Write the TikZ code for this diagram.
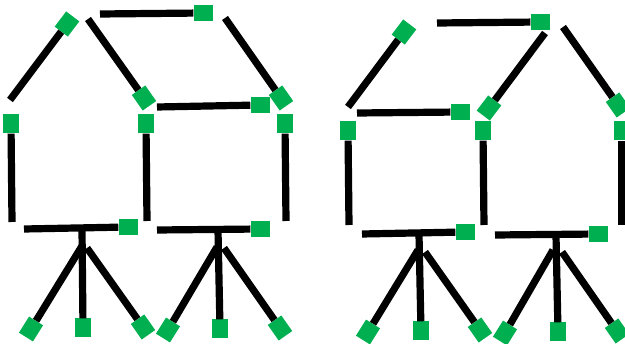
\documentclass[tikz,border=0pt]{standalone}
\usepackage{tikz}
\usepackage{xcolor}
\usetikzlibrary{positioning}
\definecolor{sqgreen}{HTML}{00B050}

\begin{document}
\begin{tikzpicture}[
  x=1pt, y=-1pt,
  sq/.style={fill=sqgreen, inner sep=0pt, minimum width=19pt, minimum height=16.5pt, rotate=#1},
  sq/.default=0,
  stick/.style={line width=7.2pt, black}
]
\clip (0,0) rectangle (625,344);

% left house: roof and walls
\node[sq=53] (la) at (67,24) {};
\node[sq] (lb) at (203,13) {};
\node[sq=-55] (lc) at (144,98) {};
\node[sq=-55] (ld) at (281,98) {};
\node[sq] (le) at (260,105) {};
\node[sq=90] (lf) at (11,124) {};
\node[sq=90] (lg) at (146,124) {};
\node[sq=90] (lh) at (285,124) {};
\coordinate (la0) at (10,100);
\coordinate (lb0) at (100,14);
\coordinate (lc0) at (88,19);
\coordinate (ld0) at (225,18);
\coordinate (le0) at (157,107);
\coordinate (lf0) at (12,222);
\coordinate (lg0) at (147,221);
\coordinate (lh0) at (286,221);
\draw[stick] (la0) -- (la);
\draw[stick] (lb0) -- (lb);
\draw[stick] (lc0) -- (lc);
\draw[stick] (ld0) -- (ld);
\draw[stick] (le0) -- (le);
\draw[stick] (lf0) -- (lf);
\draw[stick] (lg0) -- (lg);
\draw[stick] (lh0) -- (lh);

% left house: first stand
\node[sq] (l1b) at (128,227) {};
\node[sq=90] (l1m) at (83,328) {};
\node[sq=58] (l1l) at (31,329) {};
\node[sq=-55] (l1r) at (143,327) {};
\coordinate (l1b0) at (24,229);
\coordinate (l1t) at (82,229);
\coordinate (l1j) at (82,246);
\coordinate (l1k) at (87,248);
\draw[stick] (l1b0) -- (l1b);
\draw[stick] (l1t) -- (l1m);
\draw[stick] (l1j) -- (l1l);
\draw[stick] (l1k) -- (l1r);

% left house: second stand
\node[sq] (l2b) at (260,229) {};
\node[sq=90] (l2m) at (220,329) {};
\node[sq=58] (l2l) at (168,330) {};
\node[sq=-55] (l2r) at (280,328) {};
\coordinate (l2b0) at (157,230);
\coordinate (l2t) at (218,230);
\coordinate (l2j) at (217,247);
\coordinate (l2k) at (224,248);
\draw[stick] (l2b0) -- (l2b);
\draw[stick] (l2t) -- (l2m);
\draw[stick] (l2j) -- (l2l);
\draw[stick] (l2k) -- (l2r);

% right house: roof and walls
\node[sq=53] (ra) at (404,32) {};
\node[sq] (rb) at (540,22) {};
\node[sq=53] (rc) at (489,108) {};
\node[sq=-55] (rd) at (618,105) {};
\node[sq] (re) at (460,112) {};
\node[sq=90] (rf) at (348,131) {};
\node[sq=90] (rg) at (483,131) {};
\node[sq=90] (rh) at (622,131) {};
\coordinate (ra0) at (348,107);
\coordinate (rb0) at (437,23);
\coordinate (rc0) at (545,33);
\coordinate (rd0) at (563,27);
\coordinate (re0) at (357,113);
\coordinate (rf0) at (349,225);
\coordinate (rg0) at (484,225);
\coordinate (rh0) at (622,225);
\draw[stick] (ra0) -- (ra);
\draw[stick] (rb0) -- (rb);
\draw[stick] (rc0) -- (rc);
\draw[stick] (rd0) -- (rd);
\draw[stick] (re0) -- (re);
\draw[stick] (rf0) -- (rf);
\draw[stick] (rg0) -- (rg);
\draw[stick] (rh0) -- (rh);

% right house: first stand
\node[sq] (r1b) at (465,232) {};
\node[sq=90] (r1m) at (421,331) {};
\node[sq=58] (r1l) at (368,332) {};
\node[sq=-55] (r1r) at (480,330) {};
\coordinate (r1b0) at (362,234);
\coordinate (r1t) at (419,234);
\coordinate (r1j) at (418,250);
\coordinate (r1k) at (425,252);
\draw[stick] (r1b0) -- (r1b);
\draw[stick] (r1t) -- (r1m);
\draw[stick] (r1j) -- (r1l);
\draw[stick] (r1k) -- (r1r);

% right house: second stand
\node[sq] (r2b) at (598,234) {};
\node[sq=90] (r2m) at (558,332) {};
\node[sq=58] (r2l) at (505,333) {};
\node[sq=-55] (r2r) at (617,331) {};
\coordinate (r2b0) at (495,235);
\coordinate (r2t) at (556,235);
\coordinate (r2j) at (553,250);
\coordinate (r2k) at (562,252);
\draw[stick] (r2b0) -- (r2b);
\draw[stick] (r2t) -- (r2m);
\draw[stick] (r2j) -- (r2l);
\draw[stick] (r2k) -- (r2r);
\end{tikzpicture}
\end{document}
